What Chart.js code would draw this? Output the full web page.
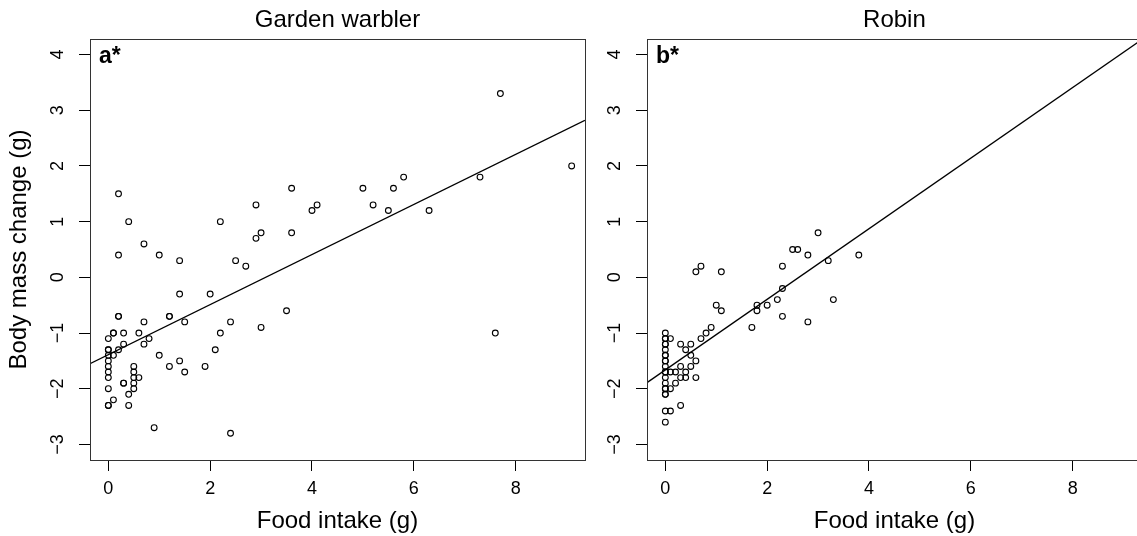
<!DOCTYPE html>
<html>
<head>
<meta charset="utf-8">
<script src="https://cdn.jsdelivr.net/npm/chart.js@4"></script>
<style>
    body { margin: 0; background: #fff; overflow: hidden; }
    .wrap { position: relative; width: 1137px; height: 536px; overflow: hidden; }
    .wrap canvas { position: absolute; top: 0; }
    #warblerChart { left: 0; }
    #robinChart { left: 557px; }
</style>
</head>
<body>
<div class="wrap">
    <canvas id="warblerChart" width="590" height="536"></canvas>
    <canvas id="robinChart" width="590" height="536"></canvas>
</div>
<script>
// Axis ticks shared by both panels
const xTicks = [0, 2, 4, 6, 8];
const yTicks = [-3, -2, -1, 0, 1, 2, 3, 4];
const xRange = [-0.36, 9.36];
const yRange = [-3.28, 4.28];

// Garden warbler: food intake (g) vs body mass change (g)
const warblerX = [
    0.2, 0.4, 0.2, 0.7, 1.0, 1.4, 2.2, 2.5, 2.7, 2.9, 2.9, 3.0, 3.6, 3.6, 4.0, 4.1,
    5.0, 5.2, 5.5, 5.6, 5.8, 6.3, 7.3, 7.7, 9.1, 7.6,
    1.4, 2.0, 3.5, 0.2, 0.2, 0.7, 1.2, 1.2, 1.5, 2.4, 3.0,
    0, 0.1, 0.1, 0.3, 0.6, 0.8, 0.7, 0.3, 0.2,
    0, 0, 0, 0, 0, 0, 0, 0, 0, 0,
    0.1, 0.1, 0.3, 0.3, 0.4, 0.4,
    0.5, 0.5, 0.5, 0.5, 0.5, 0.6,
    1.0, 1.2, 1.4, 1.5, 1.9, 2.1, 2.2, 0.9, 2.4
];
const warblerY = [
    1.5, 1.0, 0.4, 0.6, 0.4, 0.3, 1.0, 0.3, 0.2, 1.3, 0.7, 0.8, 1.6, 0.8, 1.2, 1.3,
    1.6, 1.3, 1.2, 1.6, 1.8, 1.2, 1.8, 3.3, 2.0, -1.0,
    -0.3, -0.3, -0.6, -0.7, -0.7, -0.8, -0.7, -0.7, -0.8, -0.8, -0.9,
    -1.1, -1.0, -1.0, -1.0, -1.0, -1.1, -1.2, -1.2, -1.3,
    -1.3, -1.3, -1.4, -1.5, -1.6, -1.7, -1.8, -2.0, -2.3, -2.3,
    -1.4, -2.2, -1.9, -1.9, -2.1, -2.3,
    -1.6, -1.7, -1.8, -1.9, -2.0, -1.8,
    -1.4, -1.6, -1.5, -1.7, -1.6, -1.3, -1.0, -2.7, -2.8
];
const warblerFitX = [-0.36, 9.36];
const warblerFitY = [-1.55, 2.82];

// Robin
const robinX = [
    3.0, 2.5, 2.6, 2.8, 3.2, 3.8, 2.3, 0.7, 0.6, 1.1,
    2.3, 3.3, 2.2, 1.0, 1.1, 1.8, 1.8, 2.0, 2.3, 2.8, 1.7, 0.9, 0.8, 0.7,
    0, 0, 0, 0, 0, 0, 0, 0, 0, 0, 0, 0, 0, 0, 0, 0, 0, 0, 0, 0, 0,
    0.1, 0.3, 0.5, 0.4, 0.5, 0.6, 0.3, 0.5, 0.1, 0.2, 0.4, 0.3, 0.4, 0.6, 0.2, 0.1, 0.3, 0.1
];
const robinY = [
    0.8, 0.5, 0.5, 0.4, 0.3, 0.4, 0.2, 0.2, 0.1, 0.1,
    -0.2, -0.4, -0.4, -0.5, -0.6, -0.5, -0.6, -0.5, -0.7, -0.8, -0.9, -0.9, -1.0, -1.1,
    -1.0, -1.1, -1.1, -1.2, -1.2, -1.3, -1.4, -1.4, -1.5, -1.5, -1.6, -1.7, -1.7, -1.8, -1.9, -2.0, -2.0, -2.1, -2.1, -2.4, -2.6,
    -1.1, -1.2, -1.2, -1.3, -1.4, -1.5, -1.6, -1.6, -1.7, -1.7, -1.7, -1.8, -1.8, -1.8, -1.9, -2.0, -2.3, -2.4
];
const robinFitX = [-0.36, 9.36];
const robinFitY = [-1.89, 4.27];

Chart.defaults.font.family = "'Liberation Sans', Arial, Helvetica, sans-serif";
Chart.defaults.color = '#000';

const minus = v => (v < 0 ? '\u2212' + Math.abs(v) : String(v));

// Box around the plot region and the bold panel tag
const panelBox = {
    id: 'panelBox',
    afterDraw(chart, args, opts) {
        const { ctx, chartArea: a } = chart;
        ctx.save();
        ctx.strokeStyle = '#333';
        ctx.lineWidth = 1;
        ctx.strokeRect(Math.round(a.left) + 0.5, Math.round(a.top) + 0.5,
            Math.round(a.right - a.left), Math.round(a.bottom - a.top));
        ctx.fillStyle = '#000';
        ctx.font = "bold 23px 'Liberation Sans', Arial, sans-serif";
        ctx.textBaseline = 'alphabetic';
        ctx.fillText(opts.tag, a.left + 9, a.top + 24);
        ctx.restore();
    }
};

function makePanel(canvasId, title, tag, xs, ys, fitX, fitY, showYTitle) {
    const ctx = document.getElementById(canvasId).getContext('2d');
    return new Chart(ctx, {
        data: {
            datasets: [
                {
                    type: 'scatter',
                    data: xs.map((x, i) => ({ x: x, y: ys[i] })),
                    pointStyle: 'circle',
                    pointRadius: 2.9,
                    borderWidth: 1.1,
                    borderColor: '#000',
                    backgroundColor: 'rgba(0,0,0,0)'
                },
                {
                    type: 'line',
                    data: fitX.map((x, i) => ({ x: x, y: fitY[i] })),
                    borderColor: '#000',
                    borderWidth: 1.3,
                    pointRadius: 0,
                    fill: false
                }
            ]
        },
        options: {
            responsive: false,
            animation: false,
            devicePixelRatio: 1,
            layout: { padding: { left: 0, right: 5, top: 0, bottom: 0 } },
            plugins: {
                legend: { display: false },
                tooltip: { enabled: false },
                title: {
                    display: true,
                    text: title,
                    fullSize: false,
                    color: '#000',
                    font: { size: 24, weight: 'normal' },
                    padding: { top: 6, bottom: 4.2 }
                },
                panelBox: { tag: tag }
            },
            scales: {
                x: {
                    type: 'linear',
                    min: xRange[0],
                    max: xRange[1],
                    afterBuildTicks: s => { s.ticks = xTicks.map(v => ({ value: v })); },
                    afterFit: s => { s.height = 76; },
                    border: { display: false },
                    grid: { drawOnChartArea: false, drawTicks: true, tickLength: 11, color: '#000' },
                    ticks: { font: { size: 18 }, padding: 7, color: '#000', callback: v => minus(v) },
                    title: { display: true, text: 'Food intake (g)', font: { size: 24 }, padding: { top: 0, bottom: 0 } }
                },
                y: {
                    type: 'linear',
                    min: yRange[0],
                    max: yRange[1],
                    afterBuildTicks: s => { s.ticks = yTicks.map(v => ({ value: v })); },
                    afterFit: s => { s.width = 90; },
                    border: { display: false },
                    grid: { drawOnChartArea: false, drawTicks: true, tickLength: 11, color: '#000' },
                    ticks: {
                        font: { size: 18 },
                        padding: 11,
                        color: '#000',
                        minRotation: 90,
                        maxRotation: 90,
                        crossAlign: 'center',
                        callback: v => minus(v)
                    },
                    title: { display: showYTitle, text: 'Body mass change (g)', font: { size: 24 }, padding: { top: 5, bottom: 0 } }
                }
            }
        },
        plugins: [panelBox]
    });
}

makePanel('warblerChart', 'Garden warbler', 'a*', warblerX, warblerY, warblerFitX, warblerFitY, true);
makePanel('robinChart', 'Robin', 'b*', robinX, robinY, robinFitX, robinFitY, false);
</script>
</body>
</html>
